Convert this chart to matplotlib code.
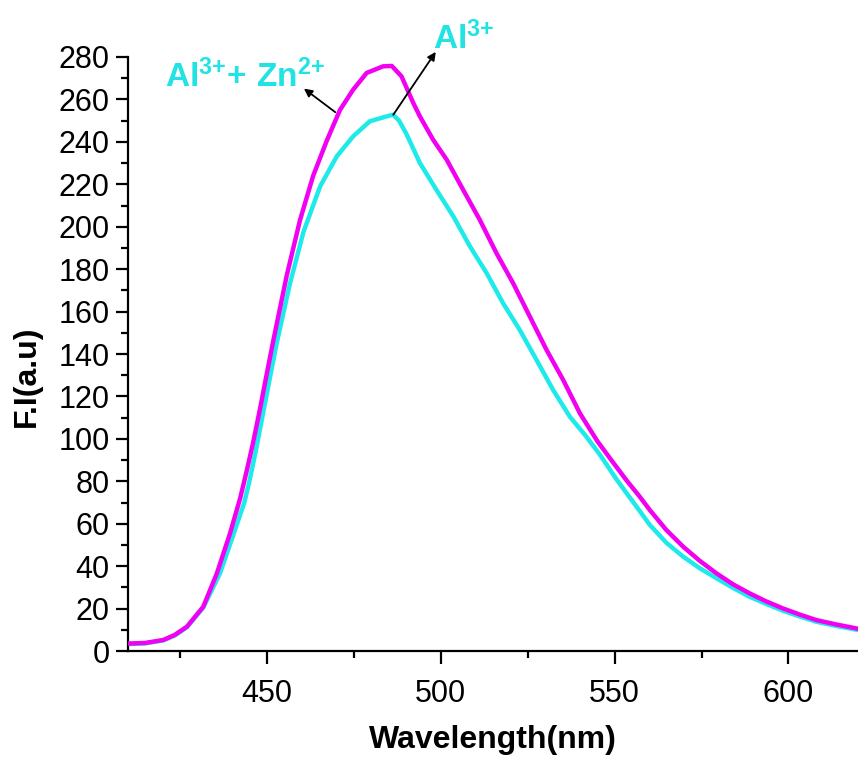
import matplotlib
matplotlib.use("Agg")
import matplotlib.pyplot as plt
from matplotlib.ticker import MultipleLocator

plt.rcParams['font.family'] = ['Liberation Sans', 'DejaVu Sans']
plt.rcParams['mathtext.fontset'] = 'custom'
plt.rcParams['mathtext.rm'] = 'Liberation Sans'
plt.rcParams['mathtext.bf'] = 'Liberation Sans:bold'

# Al3+ + Zn2+ (magenta)
wl_mix = [410, 415, 420.2, 423.5, 427, 431.7, 435.6, 439.4, 442.3, 444.2, 446, 448,
          450, 451.8, 455.7, 459.5, 463.3, 467.2, 471, 474.8, 478.7, 483.4, 485.9,
          488.7, 492.1, 494, 497.8, 501.7, 506.4, 511.2, 516, 520.8, 525.6, 530.4,
          535.2, 540, 545, 549.5, 553.4, 557.2, 560.1, 564.9, 569.7, 574.5, 579.3,
          584, 588.8, 593.6, 598.4, 603.2, 608, 613.8, 620]
fi_mix = [3.5, 3.8, 5.2, 7.6, 11.5, 20.9, 36.6, 55.5, 72, 85, 98, 114,
          131, 146, 177, 203, 224, 240.5, 255, 264.6, 272.5, 275.6, 275.8,
          270.9, 258.3, 252, 241, 231.6, 217.5, 203.3, 187.6, 173.4, 157.7, 142,
          127.8, 112.1, 99, 89, 80.5, 72.8, 66.5, 57, 49.2, 42.5, 36.6,
          31.5, 27.2, 23.4, 20.1, 17.2, 14.6, 12.5, 10.5]

# Al3+ (cyan)
wl_al = [410, 415, 420.2, 423.5, 427, 431.7, 436.5, 440.5, 443.5, 445.1, 447, 449,
         451, 452.8, 456.6, 460.5, 465.3, 470.1, 474.8, 479.6, 484.4, 486.3, 488,
         490.2, 494, 498.7, 503.6, 508.4, 513.2, 517.9, 522.7, 527.5, 532.3,
         537.1, 541.9, 546, 550.5, 553.4, 557, 560.1, 564.9, 569.7, 574.5, 579.3,
         584, 588.8, 593.6, 598.4, 603.2, 608, 613.8, 620]
fi_al = [3.3, 3.6, 5.0, 7.3, 11.2, 20.5, 36.6, 55.5, 70, 81, 96, 113,
         130, 145, 173, 197.5, 219, 233.2, 242.6, 249.7, 252, 252.8, 250,
         243.5, 230, 217.5, 204.9, 190.7, 178.1, 164, 151.4, 137.3, 123.1,
         110.5, 101, 92, 81, 74.5, 66.5, 59.5, 51, 44.5, 39, 34.3,
         29.8, 25.6, 22.2, 19, 16.3, 13.8, 11.8, 9.9]

fig = plt.figure(figsize=(8.58, 7.6), dpi=100)
ax = fig.add_axes([0.149, 0.1434, 0.851, 0.7816])

ax.plot(wl_al, fi_al, color='#1FEAEA', lw=3.2, zorder=2)
ax.plot(wl_mix, fi_mix, color='#F200F2', lw=3.2, zorder=3)

ax.set_xlim(410, 620)
ax.set_ylim(0, 280)
ax.xaxis.set_major_locator(MultipleLocator(50))
ax.xaxis.set_minor_locator(MultipleLocator(25))
ax.yaxis.set_major_locator(MultipleLocator(20))
ax.yaxis.set_minor_locator(MultipleLocator(10))

for s in ['top', 'right']:
    ax.spines[s].set_visible(False)
for s in ['left', 'bottom']:
    ax.spines[s].set_linewidth(1.6)

ax.tick_params(which='major', direction='out', length=9, width=1.6, labelsize=22, pad=4)
ax.tick_params(which='minor', direction='out', length=5, width=1.6)
ax.tick_params(axis='x', pad=11)

ax.set_xlabel("Wavelength(nm)", fontsize=23, fontweight='bold', labelpad=12)
fig.text(0.031, 1 - 376 / 760, "F.I(a.u)", fontsize=23, fontweight='bold',
         rotation=90, ha='center', va='center')

txt_color = '#22E3E3'
ax.annotate("", xy=(460, 265.9), xytext=(470.3, 253.2),
            arrowprops=dict(arrowstyle='-|>', color='black', lw=1.3, mutation_scale=12),
            annotation_clip=False)
ax.annotate("", xy=(499, 283.5), xytext=(485.9, 251.7),
            arrowprops=dict(arrowstyle='-|>', color='black', lw=1.3, mutation_scale=12),
            annotation_clip=False)

ax.text(420.7, 265.6, r"$\mathbf{Al^{3{+}}{+}\ Zn^{2{+}}}$", fontsize=24,
        color=txt_color, clip_on=False)
ax.text(497.7, 283.8, r"$\mathbf{Al^{3{+}}}$", fontsize=24, color=txt_color, clip_on=False)

fig.savefig("out.png", dpi=100)
plt.close()
